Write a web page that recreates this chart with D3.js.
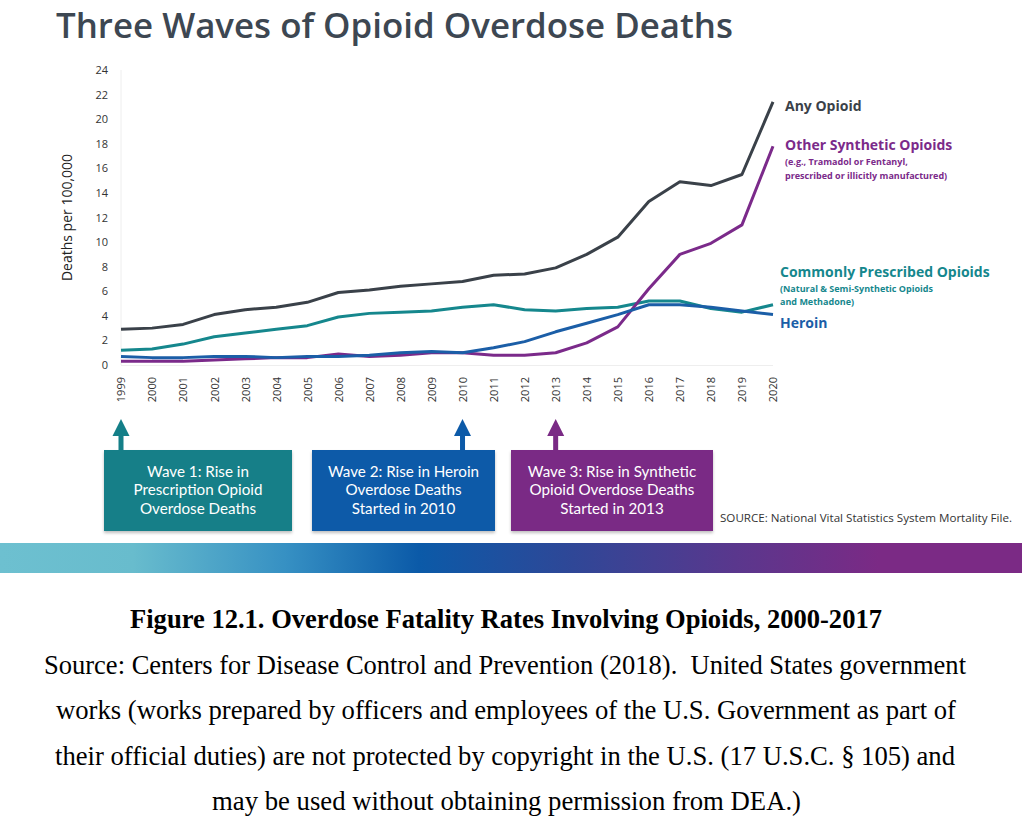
<!DOCTYPE html>
<html>
<head>
<meta charset="utf-8">
<script src="https://cdn.jsdelivr.net/npm/d3@7"></script>
<style>
  html, body { margin: 0; padding: 0; background: #fff; }
  svg { display: block; }
</style>
</head>
<body>
<svg id="chart" width="1024" height="833"></svg>
<script>
// ---------------- DATA ----------------
const years = [1999,2000,2001,2002,2003,2004,2005,2006,2007,2008,2009,2010,2011,2012,2013,2014,2015,2016,2017,2018,2019,2020];
const anyOpioid      = [2.9,3.0,3.3,4.1,4.5,4.7,5.1,5.9,6.1,6.4,6.6,6.8,7.3,7.4,7.9,9.0,10.4,13.3,14.9,14.6,15.5,21.4];
const otherSynthetic = [0.3,0.3,0.3,0.4,0.5,0.6,0.6,0.9,0.7,0.8,1.0,1.0,0.8,0.8,1.0,1.8,3.1,6.2,9.0,9.9,11.4,17.8];
const commonlyPrescribed = [1.2,1.3,1.7,2.3,2.6,2.9,3.2,3.9,4.2,4.3,4.4,4.7,4.9,4.5,4.4,4.6,4.7,5.2,5.2,4.6,4.3,4.9];
const heroin         = [0.7,0.6,0.6,0.7,0.7,0.6,0.7,0.7,0.8,1.0,1.1,1.0,1.4,1.9,2.7,3.4,4.1,4.9,4.9,4.7,4.4,4.1];
const yTicks = [0,2,4,6,8,10,12,14,16,18,20,22,24];
const seriesNames = ["Any Opioid","Commonly Prescribed Opioids","Other Synthetic Opioids","Heroin"];
const waveYears = [1999, 2010, 2013];
const waveLabels = [
  ["Wave 1: Rise in","Prescription Opioid","Overdose Deaths"],
  ["Wave 2: Rise in Heroin","Overdose Deaths","Started in 2010"],
  ["Wave 3: Rise in Synthetic","Opioid Overdose Deaths","Started in 2013"]
];
const captionTitle = "Figure 12.1. Overdose Fatality Rates Involving Opioids, 2000-2017";
const captionLines = [
  "Source: Centers for Disease Control and Prevention (2018).  United States government",
  "works (works prepared by officers and employees of the U.S. Government as part of",
  "their official duties) are not protected by copyright in the U.S. (17 U.S.C. § 105) and",
  "may be used without obtaining permission from DEA.)"
];

// ---------------- STYLE ----------------
const C = {
  any: "#3a4149",
  synth: "#7b2a8a",
  common: "#15878d",
  heroin: "#1b5ea7",
  title: "#3d4752",
  box1: "#147f88",
  box2: "#0c5aa8",
  box3: "#7a2a85"
};
const sans = "'Open Sans', 'Noto Sans', sans-serif";
const serif = "'Liberation Serif', 'Times New Roman', serif";

const svg = d3.select("#chart");

const x = d3.scaleLinear().domain([1999, 2020]).range([121, 773]);
const y = d3.scaleLinear().domain([0, 24]).range([365, 70]);

// Title
svg.append("text")
  .attr("x", 56).attr("y", 38)
  .attr("font-family", sans).attr("font-weight", 600)
  .attr("font-size", 34).attr("fill", C.title)
  .attr("textLength", 677).attr("lengthAdjust", "spacingAndGlyphs")
  .text("Three Waves of Opioid Overdose Deaths");

// faint axis lines
svg.append("line").attr("x1", x(1999)).attr("x2", x(1999)).attr("y1", y(24)).attr("y2", y(0))
  .attr("stroke", "#eeeeee").attr("stroke-width", 1);
svg.append("line").attr("x1", x(1999)).attr("x2", x(2020)).attr("y1", y(0)+0.5).attr("y2", y(0)+0.5)
  .attr("stroke", "#eeeeee").attr("stroke-width", 1);

// Y axis
const yAxis = d3.axisLeft(y).tickValues(yTicks).tickSize(0).tickPadding(0);
const gy = svg.append("g").attr("transform", "translate(108,0)").call(yAxis);
gy.select(".domain").remove();
gy.selectAll("text").attr("font-family", sans).attr("font-size", 11).attr("fill", "#333");

svg.append("text")
  .attr("transform", `translate(72,${(y(0)+y(24))/2}) rotate(-90)`)
  .attr("text-anchor", "middle")
  .attr("font-family", sans).attr("font-size", 14).attr("font-weight", 500).attr("fill", "#222")
  .text("Deaths per 100,000");

// X axis
const xAxis = d3.axisBottom(x).tickValues(years).tickFormat(d3.format("d")).tickSize(0).tickPadding(0);
const gx = svg.append("g").attr("transform", `translate(0,377)`).call(xAxis);
gx.select(".domain").remove();
gx.selectAll("text")
  .attr("font-family", sans).attr("font-size", 11).attr("fill", "#333")
  .attr("transform", "rotate(-90)")
  .attr("text-anchor", "end")
  .attr("x", 0).attr("y", 0).attr("dy", "0.35em");

// Lines
const line = d3.line().x((d, i) => x(years[i])).y(d => y(d));
const seriesData = [
  {v: anyOpioid, c: C.any},
  {v: commonlyPrescribed, c: C.common},
  {v: otherSynthetic, c: C.synth},
  {v: heroin, c: C.heroin}
];
svg.selectAll("path.series").data(seriesData).join("path")
  .attr("class", "series")
  .attr("d", d => line(d.v))
  .attr("fill", "none").attr("stroke", d => d.c)
  .attr("stroke-width", 3).attr("stroke-linejoin", "round").attr("stroke-linecap", "butt");

// Series labels
const lab = svg.append("g").attr("font-family", sans).attr("font-weight", 700);
lab.append("text").attr("x", 785).attr("y", 111).attr("font-size", 14).attr("fill", C.any).text(seriesNames[0]);
lab.append("text").attr("x", 785).attr("y", 150).attr("font-size", 14).attr("fill", C.synth).text(seriesNames[2]);
lab.append("text").attr("x", 785).attr("y", 165).attr("font-size", 9).attr("fill", C.synth).text("(e.g., Tramadol or Fentanyl,");
lab.append("text").attr("x", 785).attr("y", 179).attr("font-size", 9).attr("fill", C.synth).text("prescribed or illicitly manufactured)");
lab.append("text").attr("x", 780).attr("y", 277).attr("font-size", 14).attr("fill", C.common).text(seriesNames[1]);
lab.append("text").attr("x", 780).attr("y", 292).attr("font-size", 9).attr("fill", C.common).text("(Natural & Semi-Synthetic Opioids");
lab.append("text").attr("x", 780).attr("y", 305).attr("font-size", 9).attr("fill", C.common).text("and Methadone)");
lab.append("text").attr("x", 780).attr("y", 328).attr("font-size", 14).attr("fill", C.heroin).text(seriesNames[3]);

// Wave boxes
const boxes = [
  {x0: 104, x1: 292, c: C.box1},
  {x0: 312, x1: 495, c: C.box2},
  {x0: 511, x1: 713, c: C.box3}
];
const defs = svg.append("defs");
const filt = defs.append("filter").attr("id", "sh").attr("x", "-10%").attr("y", "-10%").attr("width", "130%").attr("height", "140%");
filt.append("feDropShadow").attr("dx", 0).attr("dy", 2).attr("stdDeviation", 1.5).attr("flood-color", "#000").attr("flood-opacity", 0.25);

boxes.forEach((b, i) => {
  const g = svg.append("g");
  const ax = x(waveYears[i]);
  // arrow
  g.append("rect").attr("x", ax - 2.5).attr("y", 434).attr("width", 5).attr("height", 16).attr("fill", b.c);
  g.append("path").attr("d", `M${ax},419 L${ax+8.5},436 L${ax-8.5},436 Z`).attr("fill", b.c);
  g.append("rect").attr("x", b.x0).attr("y", 450).attr("width", b.x1 - b.x0).attr("height", 81)
    .attr("fill", b.c).attr("filter", "url(#sh)");
  const cx = (b.x0 + b.x1) / 2;
  waveLabels[i].forEach((s, j) => {
    g.append("text")
      .attr("x", cx).attr("y", 477 + j * 18.4)
      .attr("text-anchor", "middle").attr("font-family", "Lato, 'Open Sans', sans-serif").attr("font-size", 15.2)
      .attr("fill", "#fff")
      .text(s);
  });
});

svg.append("text").attr("x", 720).attr("y", 522)
  .attr("font-family", sans).attr("font-size", 11).attr("fill", "#333")
  .attr("textLength", 292).attr("lengthAdjust", "spacingAndGlyphs")
  .text("SOURCE: National Vital Statistics System Mortality File.");

// Gradient bar
const grad = defs.append("linearGradient").attr("id", "bar").attr("x1", "0%").attr("x2", "100%");
[[0, "#6dc0d0"], [0.13, "#68bccd"], [0.28, "#3690c3"], [0.41, "#0b5aa8"], [0.56, "#2f4797"], [0.72, "#5a378d"], [0.86, "#7b2a85"], [1, "#7b2a85"]]
  .forEach(s => grad.append("stop").attr("offset", s[0]).attr("stop-color", s[1]));
svg.append("rect").attr("x", 0).attr("y", 543).attr("width", 1022).attr("height", 30).attr("fill", "url(#bar)");

// Caption
svg.append("text").attr("x", 506).attr("y", 628).attr("text-anchor", "middle")
  .attr("font-family", serif).attr("font-weight", 700).attr("font-size", 28).attr("fill", "#000")
  .attr("textLength", 752).attr("lengthAdjust", "spacingAndGlyphs")
  .text(captionTitle);
const capW = [[44, 966], [56, 956], [55, 955], [212, 801]];
captionLines.forEach((t, i) => {
  svg.append("text").attr("x", (capW[i][0] + capW[i][1]) / 2).attr("y", 674 + i * 45.3)
    .attr("text-anchor", "middle")
    .attr("font-family", serif).attr("font-size", 27).attr("fill", "#000")
    .attr("textLength", capW[i][1] - capW[i][0]).attr("lengthAdjust", "spacingAndGlyphs")
    .attr("xml:space", "preserve")
    .text(t);
});
</script>
</body>
</html>
